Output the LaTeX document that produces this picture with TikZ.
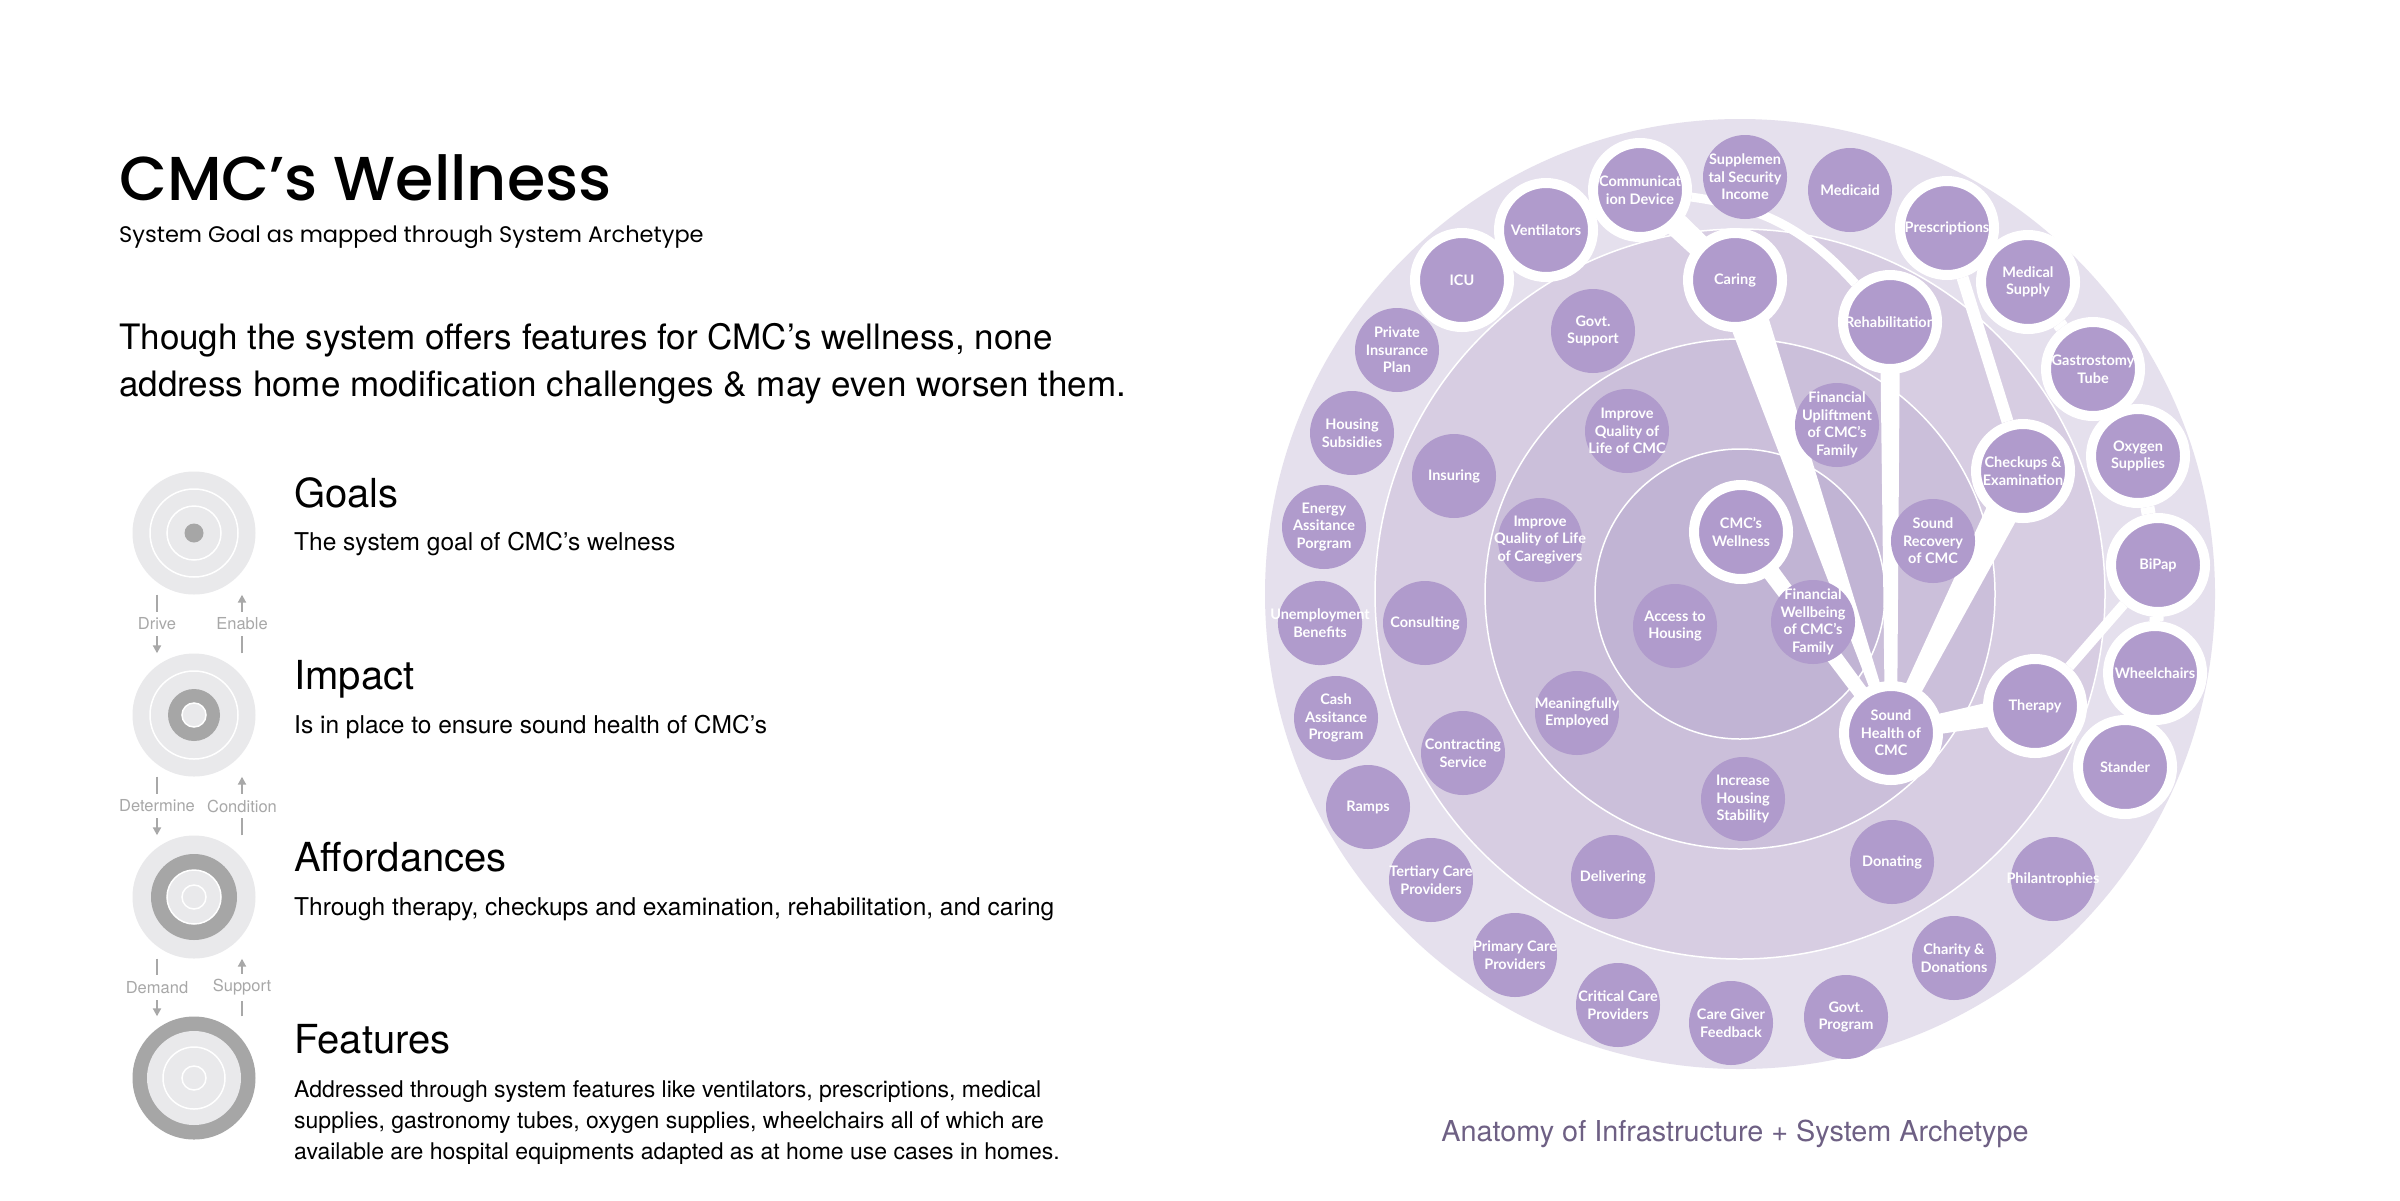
\documentclass[tikz,border=0pt]{standalone}
\usepackage{fontspec}
\setmainfont{TeX Gyre Heros}
\newfontfamily\titlefont{Poppins}[UprightFont={* Medium}]
\newfontfamily\subfont{Poppins}
\newfontfamily\nodefont{Lato}
\usetikzlibrary{calc,arrows.meta}

\definecolor{ringA}{RGB}{229,224,237}
\definecolor{ringB}{RGB}{215,205,226}
\definecolor{ringC}{RGB}{203,191,218}
\definecolor{ringD}{RGB}{193,180,212}
\definecolor{nodefill}{RGB}{176,155,204}
\definecolor{iconlight}{RGB}{233,233,235}
\definecolor{icondark}{RGB}{166,166,166}
\definecolor{flowgray}{RGB}{168,168,168}
\definecolor{capcolor}{RGB}{110,96,132}

\pgfdeclarelayer{rings}
\pgfdeclarelayer{links}
\pgfsetlayers{rings,links,main}

% tapered white band between two nodes
\newcommand{\taper}[4]{%
  \fill[white] ($(#1.center)!#3!90:(#2.center)$) -- ($(#1.center)!#3!-90:(#2.center)$)
    -- ($(#2.center)!#4!90:(#1.center)$) -- ($(#2.center)!#4!-90:(#1.center)$) -- cycle;}

\tikzset{
  item/.style={circle, fill=nodefill, minimum size=84pt, inner sep=-8pt, align=center,
    text=white, font=\nodefont\bfseries\fontsize{14.5}{17.5}\selectfont},
  hub/.style={item, draw=white, line width=10pt, minimum size=94pt},
  ring/.style={draw=white, line width=1.5pt},
  link/.style={draw=white, line width=12pt},
  icon/.style={circle, fill=iconlight, minimum size=123pt, inner sep=0pt},
  thinring/.style={draw=white, line width=1.5pt},
  flow/.style={draw=flowgray, line width=2pt, -{Triangle[width=8pt,length=8pt]}},
  flowlabel/.style={midway, fill=white, inner xsep=1pt, inner ysep=6pt, text=flowgray,
    font=\fontsize{16.5}{18}\selectfont},
  heading/.style={anchor=base west, inner sep=0pt, font=\fontsize{40}{44}\selectfont},
  desc/.style={anchor=base west, inner sep=0pt, font=\fontsize{24.5}{31}\selectfont},
  claim/.style={anchor=base west, inner sep=0pt, font=\fontsize{35}{47}\selectfont},
}

\begin{document}
\begin{tikzpicture}[x=1pt,y=-1pt]
  \useasboundingbox (0,0) rectangle (2400,1200);

  % title block
  \node[anchor=base west, inner sep=0pt, font=\titlefont\fontsize{62}{70}\selectfont] (title) at (119,200) {CMC’s Wellness};
  \node[anchor=base west, inner sep=0pt, font=\subfont\fontsize{22.5}{25}\selectfont] (subtitle) at (119,242) {System Goal as mapped through System Archetype};
  \node[claim] (claimtop) at (119,349) {Though the system offers features for CMC’s wellness, none};
  \node[claim] (claimbot) at (119,396) {address home modification challenges \& may even worsen them.};

  % legend icons
  \node[icon] (goals) at (194,533) {};
  \draw[thinring] (goals.center) circle (44pt) (goals.center) circle (27pt);
  \fill[icondark] (goals.center) circle (9.5pt);

  \node[icon] (impact) at (194,715) {};
  \draw[thinring] (impact.center) circle (44pt);
  \fill[icondark, even odd rule] (impact.center) circle (26pt) (impact.center) circle (12pt);
  \draw[thinring] (impact.center) circle (12pt);

  \node[icon] (afford) at (194,897) {};
  \fill[icondark, even odd rule] (afford.center) circle (43pt) (afford.center) circle (27pt);
  \draw[thinring] (afford.center) circle (27pt) (afford.center) circle (12pt);

  \node[icon, fill=icondark] (feature) at (194,1078) {};
  \fill[iconlight] (feature.center) circle (47pt);
  \draw[thinring] (feature.center) circle (31pt) (feature.center) circle (12pt);

  \draw[flow] ([xshift=-37pt]goals.south) -- ([xshift=-37pt]impact.north) node[flowlabel] {Drive};
  \draw[flow] ([xshift=48pt]impact.north) -- ([xshift=48pt]goals.south) node[flowlabel] {Enable};
  \draw[flow] ([xshift=-37pt]impact.south) -- ([xshift=-37pt]afford.north) node[flowlabel] {Determine};
  \draw[flow] ([xshift=48pt]afford.north) -- ([xshift=48pt]impact.south) node[flowlabel] {Condition};
  \draw[flow] ([xshift=-37pt]afford.south) -- ([xshift=-37pt]feature.north) node[flowlabel] {Demand};
  \draw[flow] ([xshift=48pt]feature.north) -- ([xshift=48pt]afford.south) node[flowlabel] {Support};

  \node[heading] (goalshead) at (294,507) {Goals};
  \node[desc] (goalsdesc) at (294,550) {The system goal of CMC’s welness};
  \node[heading] (impacthead) at (294,689) {Impact};
  \node[desc] (impactdesc) at (294,733) {Is in place to ensure sound health of CMC’s};
  \node[heading] (affordhead) at (294,871) {Affordances};
  \node[desc] (affordesc) at (294,915) {Through therapy, checkups and examination, rehabilitation, and caring};
  \node[heading] (featurehead) at (294,1053) {Features};
  \node[desc, font=\fontsize{23}{31}\selectfont] (featureone) at (294,1097) {Addressed through system features like ventilators, prescriptions, medical};
  \node[desc, font=\fontsize{23}{31}\selectfont] (featuretwo) at (294,1128) {supplies, gastronomy tubes, oxygen supplies, wheelchairs all of which are};
  \node[desc, font=\fontsize{23}{31}\selectfont] (featurethree) at (294,1159) {available are hospital equipments adapted as at home use cases in homes.};

  % rings
  \begin{pgfonlayer}{rings}
    \fill[white] (0,0) rectangle (2400,1200);
    \coordinate (core) at (1740,594);
    \fill[ringA] (core) circle (475pt);
    \filldraw[ring, fill=ringB] (core) circle (365pt);
    \filldraw[ring, fill=ringC] (core) circle (255pt);
    \filldraw[ring, fill=ringD] (core) circle (145pt);
  \end{pgfonlayer}

  % features
  \node[hub] (icu) at (1462,280) {ICU};
  \node[hub] (vent) at (1546,230) {Ventilators};
  \node[hub] (comm) at (1640,190) {Communicat\\ion Device};
  \node[item] (ssi) at (1745,177) {Supplemen\\tal Security\\Income};
  \node[item] (medicaid) at (1850,190) {Medicaid};
  \node[hub] (rx) at (1947,228) {Prescriptions};
  \node[hub] (medsup) at (2028,282) {Medical\\Supply};
  \node[hub] (gtube) at (2093,369) {Gastrostomy\\Tube};
  \node[hub] (oxygen) at (2138,456) {Oxygen\\Supplies};
  \node[hub] (bipap) at (2158,565) {BiPap};
  \node[hub] (wheel) at (2155,673) {Wheelchairs};
  \node[hub] (stander) at (2125,767) {Stander};
  \node[item] (phil) at (2053,879) {Philantrophies};
  \node[item] (charity) at (1954,958) {Charity \&\\Donations};
  \node[item] (govprog) at (1846,1017) {Govt.\\Program};
  \node[item] (feedback) at (1731,1023) {Care Giver\\Feedback};
  \node[item] (critical) at (1618,1005) {Critical Care\\Providers};
  \node[item] (primary) at (1515,955) {Primary Care\\Providers};
  \node[item] (tertiary) at (1431,880) {Tertiary Care\\Providers};
  \node[item] (ramps) at (1368,807) {Ramps};
  \node[item] (cash) at (1336,718) {Cash\\Assitance\\Program};
  \node[item] (unemp) at (1320,623) {Unemployment\\Benefits};
  \node[item] (energy) at (1324,527) {Energy\\Assitance\\Porgram};
  \node[item] (housub) at (1352,433) {Housing\\Subsidies};
  \node[item] (privins) at (1397,350) {Private\\Insurance\\Plan};

  % affordances
  \node[item] (govsup) at (1593,331) {Govt.\\Support};
  \node[hub] (caring) at (1735,280) {Caring};
  \node[hub] (rehab) at (1890,322) {Rehabilitation};
  \node[hub] (checkup) at (2023,471) {Checkups \&\\Examination};
  \node[hub] (therapy) at (2035,706) {Therapy};
  \node[item] (donating) at (1892,862) {Donating};
  \node[item] (delivering) at (1613,877) {Delivering};
  \node[item] (contract) at (1463,753) {Contracting\\Service};
  \node[item] (consult) at (1425,623) {Consulting};
  \node[item] (insuring) at (1454,476) {Insuring};

  % impact
  \node[item] (qolcmc) at (1627,431) {Improve\\Quality of\\Life of CMC};
  \node[item] (finup) at (1837,425) {Financial\\Upliftment\\of CMC’s\\Family};
  \node[item] (recovery) at (1933,541) {Sound\\Recovery\\of CMC};
  \node[hub] (health) at (1891,733) {Sound\\Health of\\CMC};
  \node[item] (housing) at (1743,799) {Increase\\Housing\\Stability};
  \node[item] (employed) at (1577,713) {Meaningfully\\Employed};
  \node[item] (qolcare) at (1540,540) {Improve\\Quality of Life\\of Caregivers};

  % goals
  \node[hub] (wellness) at (1741,532) {CMC’s\\Wellness};
  \node[item] (access) at (1675,626) {Access to\\Housing};
  \node[item] (finwell) at (1813,622) {Financial\\Wellbeing\\of CMC’s\\Family};

  % white links
  \begin{pgfonlayer}{links}
    \draw[link, line width=14pt] (icu) -- (vent) -- (comm);
    \draw[link, line width=14pt] (rx) -- (medsup) -- (gtube) -- (oxygen) -- (bipap) -- (wheel) -- (stander);
    \draw[link, line width=9pt] (comm) to[bend left=20] (rehab);
    \draw[link] (rx) -- (checkup);
    \draw[link, line width=10pt] (bipap) -- (therapy);
    \taper{comm}{caring}{13pt}{11pt}
    \taper{caring}{health}{21pt}{4pt}
    \taper{rehab}{health}{10pt}{6pt}
    \taper{checkup}{health}{18pt}{7pt}
    \taper{therapy}{health}{14pt}{8pt}
    \taper{wellness}{health}{9pt}{7pt}
  \end{pgfonlayer}

  \node[anchor=base, inner sep=0pt, text=capcolor, font=\fontsize{28.8}{32}\selectfont] (caption) at (1735,1141) {Anatomy of Infrastructure + System Archetype};
\end{tikzpicture}
\end{document}
